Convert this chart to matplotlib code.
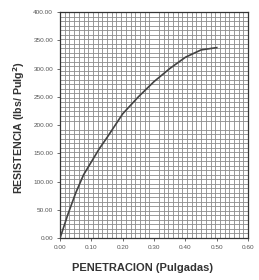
import matplotlib
matplotlib.use('Agg')
import matplotlib.pyplot as plt
import numpy as np

# lectura de la curva (penetracion vs resistencia)
penetracion = [0.0, 0.025, 0.05, 0.075, 0.10, 0.125, 0.15, 0.20, 0.25,
               0.30, 0.35, 0.40, 0.45, 0.50]
resistencia = [0.0, 42, 80, 112, 135, 158, 178, 220, 250,
               277, 300, 320, 333, 337]

x_ticks = [0.0, 0.1, 0.2, 0.3, 0.4, 0.5, 0.6]
y_ticks = [0, 50, 100, 150, 200, 250, 300, 350, 400]

plt.rcParams['font.family'] = ['Liberation Sans', 'DejaVu Sans']

fig = plt.figure(figsize=(2.59, 2.80), dpi=100)
ax = fig.add_axes([0.232, 0.150, 0.726, 0.807])

ax.plot(penetracion, resistencia, color='#444444', lw=1.2, zorder=3,
        solid_joinstyle='round')

ax.set_xlim(0, 0.6)
ax.set_ylim(0, 400)
ax.set_xticks(x_ticks)
ax.set_yticks(y_ticks)
ax.set_xticks(np.arange(0, 0.6001, 0.015), minor=True)
ax.set_yticks(np.arange(0, 400.1, 8), minor=True)
ax.xaxis.set_major_formatter(matplotlib.ticker.FormatStrFormatter('%.2f'))
ax.yaxis.set_major_formatter(matplotlib.ticker.FormatStrFormatter('%.2f'))

ax.grid(which='minor', color='#8a8a8a', lw=0.6)
ax.grid(which='major', visible=False)
ax.tick_params(which='minor', length=0)
ax.tick_params(which='major', length=2, width=0.6, labelsize=4.6,
               labelcolor='#555555', color='#555555', pad=3)
for s in ax.spines.values():
    s.set_color('#333333')
    s.set_linewidth(0.9)

ax.set_xlabel('PENETRACION (Pulgadas)', fontsize=8.0, fontweight='bold',
              color='#333333')
ax.set_ylabel('RESISTENCIA (lbs/ Pulg$^\\mathbf{2}$)', fontsize=7.7,
              fontweight='bold', color='#333333')
ax.xaxis.set_label_coords(0.44, -0.133)
ax.yaxis.set_label_coords(-0.218, 0.49)
ax.xaxis.label.set_va('center')
ax.yaxis.label.set_va('center')

fig.savefig('out.png', dpi=100)
